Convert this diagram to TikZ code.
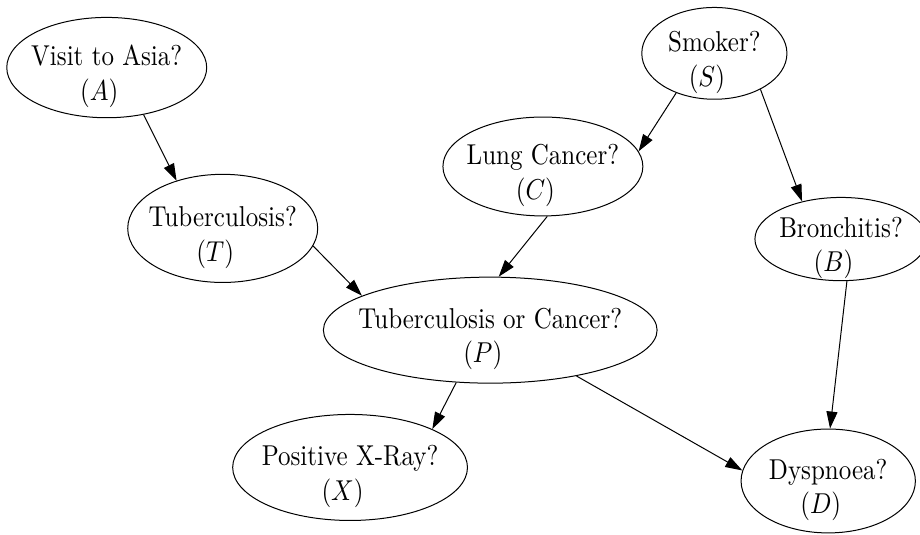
\documentclass[tikz,border=0pt]{standalone}
\usepackage{graphicx}
\usetikzlibrary{shapes.geometric,arrows.meta}

\newcommand{\vlab}[2]{\smash{\makebox[0pt]{\raisebox{-6.3pt}{\scalebox{1}[1.15]{\begin{tabular}{@{}c@{}}#1\\#2\kern6pt\end{tabular}}}}}}

\tikzset{
  var/.style={draw, ellipse, inner sep=0pt},
  dep/.style={-{Triangle[length=6.8pt,width=4.4pt]}}
}

\begin{document}
\begin{tikzpicture}
    \useasboundingbox (0,0) rectangle (12.93,7.51);

    \node[var, minimum width=2.81cm, minimum height=1.41cm] (A) at (1.50,6.56) {\vlab{Visit to Asia?}{$(A)$}};
    \node[var, minimum width=2.67cm, minimum height=1.52cm] (T) at (3.13,4.30) {\vlab{Tuberculosis?}{$(T)$}};
    \node[var, minimum width=2.81cm, minimum height=1.39cm] (C) at (7.63,5.17) {\vlab{Lung Cancer?}{$(C)$}};
    \node[var, minimum width=2.04cm, minimum height=1.29cm] (S) at (10.04,6.76) {\vlab{Smoker?}{$(S)$}};
    \node[var, minimum width=2.42cm, minimum height=1.17cm] (B) at (11.82,4.15) {\vlab{Bronchitis?}{$(B)$}};
    \node[var, minimum width=4.69cm, minimum height=1.49cm] (P) at (6.89,2.87) {\vlab{Tuberculosis or Cancer?}{$(P)$}};
    \node[var, minimum width=3.30cm, minimum height=1.49cm] (X) at (4.92,0.94) {\vlab{Positive X-Ray?}{$(X)$}};
    \node[var, minimum width=2.45cm, minimum height=1.46cm] (D) at (11.64,0.75) {\vlab{Dyspnoea?}{$(D)$}};

    \draw[dep] (A.-52) -- (T.134);
    \draw[dep] (T.-11) -- (P.165);
    \draw[dep] (C.-85) -- (P.81);
    \draw[dep] (S.-134) -- (C.9);
    \draw[dep] (S.-38) -- (B.136);
    \draw[dep] (B.-82) -- (D.88);
    \draw[dep] (P.-123) -- (X.25);
    \draw[dep] (P.-28) -- (D.173);
\end{tikzpicture}
\end{document}
